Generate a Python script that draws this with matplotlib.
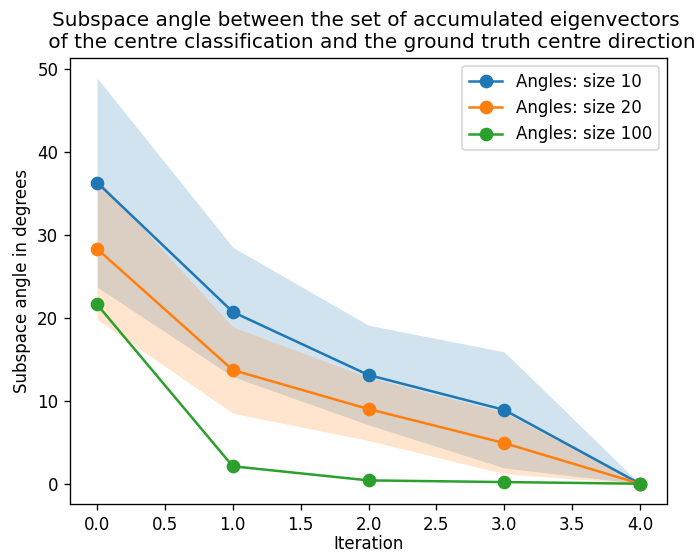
import numpy as np
import matplotlib
matplotlib.use('Agg')
import matplotlib.pyplot as plt

# ── data ─────────────────────────────────────────────────────────────────────
iterations = [0, 1, 2, 3, 4]

mean_10  = [36.3, 20.7, 13.1, 8.9, 0.0]
std_10   = [12.6, 7.8, 6.0, 7.0, 0.0]

mean_20  = [28.3, 13.7, 9.0, 4.9, 0.0]
std_20   = [8.5, 5.2, 3.8, 3.7, 0.0]

mean_100 = [21.6, 2.1, 0.4, 0.2, 0.0]

labels = ["Angles: size 10", "Angles: size 20", "Angles: size 100"]

DPI = 120
fig, ax = plt.subplots(figsize=(697 / DPI, 553 / DPI), dpi=DPI)
fig.subplots_adjust(left=0.1004, right=0.957, bottom=0.0886, top=0.8957)

x = np.array(iterations)
for mean, std, lab in [(mean_10, std_10, labels[0]), (mean_20, std_20, labels[1])]:
    m = np.array(mean)
    s = np.array(std)
    line, = ax.plot(x, m, marker='o', markersize=7.2, label=lab)
    ax.fill_between(x, m - s, m + s, color=line.get_color(), alpha=0.2, linewidth=0)

ax.plot(x, mean_100, marker='o', markersize=7.2, label=labels[2])

# title is wider than the figure in the original, the right end gets clipped
ax.set_title("Subspace angle between the set of accumulated eigenvectors \n"
             " of the centre classification and the ground truth centre direction")
ax.set_xlabel("Iteration", labelpad=0.5)
ax.set_ylabel("Subspace angle in degrees")
ax.legend(loc='upper right')

fig.savefig("out.png", dpi=DPI)
